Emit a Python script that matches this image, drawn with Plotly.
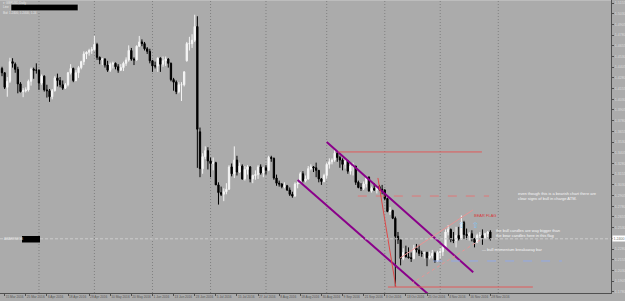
import plotly.graph_objects as go
import pandas as pd

# ---------------- data (GBPUSD daily) ----------------
first_day, last_day = "2016-03-14", "2016-11-28"
dates = pd.bdate_range(first_day, last_day)
calendar = pd.bdate_range(first_day, "2016-12-30")

opens = [
    1.4390, 1.4340, 1.4170, 1.4240, 1.4470,
    1.4440, 1.4380, 1.4210, 1.4120, 1.4130,
    1.4140, 1.4240, 1.4380, 1.4370, 1.4370,
    1.4220, 1.4300, 1.4140, 1.4130, 1.4060,
    1.4130, 1.4280, 1.4250, 1.4200, 1.4160,
    1.4200, 1.4340, 1.4390, 1.4250, 1.4340,
    1.4400, 1.4470, 1.4560, 1.4580, 1.4600,
    1.4610, 1.4670, 1.4520, 1.4490, 1.4500,
    1.4430, 1.4370, 1.4440, 1.4450, 1.4410,
    1.4370, 1.4400, 1.4450, 1.4490, 1.4600,
    1.4500, 1.4490, 1.4650, 1.4700, 1.4680,
    1.4620, 1.4590, 1.4480, 1.4420, 1.4420,
    1.4510, 1.4440, 1.4480, 1.4500, 1.4450,
    1.4260, 1.4230, 1.4120, 1.4200, 1.4200,
    1.4480, 1.4680, 1.4680, 1.4720, 1.4880,
    1.3650, 1.3220, 1.3360, 1.3430, 1.3310,
    1.3280, 1.3290, 1.3030, 1.2940, 1.2920,
    1.2950, 1.2980, 1.3240, 1.3160, 1.3320,
    1.3180, 1.3250, 1.3100, 1.3210, 1.3240,
    1.3100, 1.3140, 1.3150, 1.3240, 1.3170,
    1.3230, 1.3200, 1.3350, 1.3340, 1.3110,
    1.3050, 1.3040, 1.3010, 1.3020, 1.2970,
    1.2920, 1.2900, 1.3040, 1.3050, 1.3160,
    1.3080, 1.3100, 1.3220, 1.3240, 1.3230,
    1.3200, 1.3100, 1.3070, 1.3140, 1.3270,
    1.3300, 1.3320, 1.3400, 1.3350, 1.3320,
    1.3270, 1.3310, 1.3190, 1.3250, 1.3250,
    1.3060, 1.3000, 1.2990, 1.3040, 1.3120,
    1.2960, 1.2990, 1.2970, 1.3010, 1.2980,
    1.2970, 1.2870, 1.2720, 1.2730, 1.2640,
    1.2430, 1.2390, 1.2170, 1.2240, 1.2190,
    1.2180, 1.2170, 1.2290, 1.2270, 1.2230,
    1.2230, 1.2240, 1.2180, 1.2200, 1.2230,
    1.2140, 1.2240, 1.2250, 1.2300, 1.2480,
    1.2510, 1.2390, 1.2380, 1.2440, 1.2400,
    1.2590, 1.2450, 1.2440, 1.2460, 1.2400,
    1.2360, 1.2440, 1.2440, 1.2410, 1.2460,
    1.2480,
]
highs = [
    1.4410, 1.4345, 1.4290, 1.4515, 1.4510,
    1.4460, 1.4410, 1.4230, 1.4160, 1.4170,
    1.4260, 1.4400, 1.4400, 1.4450, 1.4380,
    1.4320, 1.4310, 1.4200, 1.4150, 1.4150,
    1.4300, 1.4330, 1.4290, 1.4250, 1.4220,
    1.4350, 1.4440, 1.4400, 1.4370, 1.4420,
    1.4480, 1.4590, 1.4590, 1.4620, 1.4640,
    1.4770, 1.4690, 1.4530, 1.4510, 1.4510,
    1.4480, 1.4460, 1.4470, 1.4460, 1.4440,
    1.4440, 1.4470, 1.4520, 1.4660, 1.4630,
    1.4520, 1.4660, 1.4770, 1.4730, 1.4700,
    1.4640, 1.4620, 1.4490, 1.4470, 1.4520,
    1.4520, 1.4530, 1.4530, 1.4510, 1.4460,
    1.4280, 1.4250, 1.4230, 1.4230, 1.4360,
    1.4700, 1.4760, 1.4790, 1.5018, 1.5000,
    1.3700, 1.3400, 1.3480, 1.3470, 1.3350,
    1.3350, 1.3300, 1.3060, 1.3010, 1.2990,
    1.3050, 1.3260, 1.3280, 1.3480, 1.3370,
    1.3290, 1.3270, 1.3250, 1.3260, 1.3250,
    1.3150, 1.3200, 1.3260, 1.3270, 1.3240,
    1.3260, 1.3370, 1.3370, 1.3350, 1.3150,
    1.3080, 1.3050, 1.3060, 1.3030, 1.3000,
    1.2950, 1.3060, 1.3070, 1.3180, 1.3190,
    1.3140, 1.3250, 1.3270, 1.3250, 1.3290,
    1.3200, 1.3110, 1.3160, 1.3290, 1.3340,
    1.3340, 1.3445, 1.3420, 1.3370, 1.3340,
    1.3330, 1.3320, 1.3270, 1.3290, 1.3250,
    1.3080, 1.3050, 1.3070, 1.3120, 1.3130,
    1.3010, 1.3050, 1.3020, 1.3030, 1.3030,
    1.2980, 1.2880, 1.2770, 1.2740, 1.2660,
    1.2480, 1.2400, 1.2290, 1.2320, 1.2300,
    1.2240, 1.2330, 1.2340, 1.2330, 1.2260,
    1.2250, 1.2250, 1.2250, 1.2270, 1.2250,
    1.2260, 1.2290, 1.2330, 1.2510, 1.2560,
    1.2520, 1.2480, 1.2540, 1.2540, 1.2674,
    1.2610, 1.2520, 1.2480, 1.2500, 1.2410,
    1.2460, 1.2480, 1.2510, 1.2470, 1.2490,
    1.2500,
]
lows = [
    1.4300, 1.4150, 1.4060, 1.4220, 1.4400,
    1.4340, 1.4100, 1.4110, 1.4055, 1.4110,
    1.4120, 1.4190, 1.4270, 1.4330, 1.4140,
    1.4200, 1.4120, 1.4050, 1.4000, 1.4030,
    1.4120, 1.4180, 1.4170, 1.4140, 1.4150,
    1.4180, 1.4320, 1.4230, 1.4240, 1.4280,
    1.4380, 1.4430, 1.4500, 1.4540, 1.4560,
    1.4600, 1.4490, 1.4440, 1.4430, 1.4400,
    1.4350, 1.4350, 1.4390, 1.4380, 1.4340,
    1.4360, 1.4360, 1.4420, 1.4470, 1.4480,
    1.4430, 1.4480, 1.4640, 1.4650, 1.4600,
    1.4560, 1.4450, 1.4350, 1.4390, 1.4350,
    1.4350, 1.4410, 1.4420, 1.4400, 1.4240,
    1.4130, 1.4090, 1.4100, 1.4010, 1.4180,
    1.4470, 1.4600, 1.4630, 1.4700, 1.3229,
    1.3120, 1.3160, 1.3330, 1.3210, 1.3120,
    1.3200, 1.3030, 1.2800, 1.2900, 1.2840,
    1.2920, 1.2970, 1.3130, 1.3110, 1.3140,
    1.3170, 1.3090, 1.3080, 1.3150, 1.3060,
    1.3050, 1.3090, 1.3100, 1.3150, 1.3120,
    1.3150, 1.3190, 1.3300, 1.3090, 1.3020,
    1.3010, 1.2990, 1.2990, 1.2960, 1.2900,
    1.2880, 1.2890, 1.2990, 1.3040, 1.3060,
    1.3060, 1.3090, 1.3200, 1.3180, 1.3120,
    1.3060, 1.3030, 1.3060, 1.3100, 1.3220,
    1.3270, 1.3300, 1.3300, 1.3230, 1.3200,
    1.3220, 1.3160, 1.3150, 1.3140, 1.3030,
    1.2990, 1.2960, 1.2970, 1.3000, 1.2950,
    1.2940, 1.2960, 1.2930, 1.2960, 1.2920,
    1.2850, 1.2710, 1.2680, 1.2630, 1.1841,
    1.2340, 1.2090, 1.2150, 1.2180, 1.2170,
    1.2130, 1.2160, 1.2240, 1.2200, 1.2190,
    1.2170, 1.2080, 1.2160, 1.2170, 1.2120,
    1.2130, 1.2170, 1.2200, 1.2290, 1.2440,
    1.2360, 1.2350, 1.2300, 1.2380, 1.2390,
    1.2400, 1.2390, 1.2380, 1.2370, 1.2300,
    1.2350, 1.2410, 1.2330, 1.2400, 1.2420,
    1.2380,
]
closes = [
    1.4340, 1.4170, 1.4240, 1.4470, 1.4450,
    1.4380, 1.4210, 1.4120, 1.4130, 1.4140,
    1.4240, 1.4380, 1.4370, 1.4370, 1.4220,
    1.4300, 1.4140, 1.4130, 1.4060, 1.4130,
    1.4280, 1.4250, 1.4200, 1.4160, 1.4200,
    1.4340, 1.4390, 1.4250, 1.4340, 1.4400,
    1.4470, 1.4560, 1.4580, 1.4600, 1.4610,
    1.4670, 1.4520, 1.4490, 1.4500, 1.4430,
    1.4370, 1.4440, 1.4450, 1.4410, 1.4370,
    1.4400, 1.4450, 1.4490, 1.4600, 1.4500,
    1.4490, 1.4650, 1.4700, 1.4680, 1.4620,
    1.4590, 1.4480, 1.4420, 1.4420, 1.4510,
    1.4440, 1.4480, 1.4500, 1.4450, 1.4260,
    1.4230, 1.4120, 1.4200, 1.4200, 1.4350,
    1.4680, 1.4680, 1.4720, 1.4880, 1.3680,
    1.3220, 1.3360, 1.3430, 1.3310, 1.3280,
    1.3290, 1.3030, 1.2940, 1.2920, 1.2950,
    1.2980, 1.3240, 1.3160, 1.3320, 1.3180,
    1.3250, 1.3100, 1.3210, 1.3240, 1.3100,
    1.3140, 1.3150, 1.3240, 1.3170, 1.3230,
    1.3200, 1.3350, 1.3340, 1.3110, 1.3050,
    1.3040, 1.3010, 1.3020, 1.2970, 1.2920,
    1.2900, 1.3040, 1.3050, 1.3160, 1.3080,
    1.3100, 1.3220, 1.3240, 1.3230, 1.3200,
    1.3100, 1.3070, 1.3140, 1.3270, 1.3300,
    1.3320, 1.3400, 1.3350, 1.3320, 1.3270,
    1.3310, 1.3190, 1.3250, 1.3250, 1.3060,
    1.3000, 1.2990, 1.3040, 1.3120, 1.2960,
    1.2990, 1.2970, 1.3010, 1.2980, 1.2970,
    1.2870, 1.2720, 1.2730, 1.2640, 1.2430,
    1.2390, 1.2170, 1.2240, 1.2190, 1.2180,
    1.2170, 1.2290, 1.2270, 1.2230, 1.2230,
    1.2240, 1.2180, 1.2200, 1.2230, 1.2140,
    1.2240, 1.2250, 1.2300, 1.2480, 1.2510,
    1.2390, 1.2380, 1.2440, 1.2400, 1.2590,
    1.2450, 1.2440, 1.2460, 1.2400, 1.2360,
    1.2440, 1.2440, 1.2410, 1.2460, 1.2480,
    1.2400,
]

price_ticks = [1.5155, 1.5030, 1.4905, 1.4780, 1.4655, 1.4530, 1.4405,
               1.4280, 1.4155, 1.4030, 1.3905, 1.3780, 1.3655, 1.3530,
               1.3405, 1.3280, 1.3155, 1.3030, 1.2905, 1.2780, 1.2655,
               1.2530, 1.2405, 1.2280, 1.2155, 1.2030, 1.1905, 1.1780]
date_tick_bars = [1, 9, 17, 25, 33, 41, 49, 57, 65, 73, 81, 89, 97, 105,
                  113, 121, 129, 137, 145, 153, 161, 169, 177, 185]

# drawn objects: (bar index, price) end points
channel_upper = ([123.0, 178.5], [1.3530, 1.2010])
channel_lower = ([112.0, 161.5], [1.3087, 1.1752])
red_top = ([127.3, 181.8], [1.3415, 1.3415])
red_dash = ([134.8, 184.5], [1.2900, 1.2900])
red_drop = ([142.4, 149.2], [1.3111, 1.1837])
red_bottom = ([146.2, 201.1], [1.1837, 1.1837])
flag_upper = ([150.8, 178.4], [1.2176, 1.2737])
flag_lower = ([155.2, 181.1], [1.1880, 1.2386])
blue_dash = ([163.3, 212.1], [1.2141, 1.2141])
arrow_bars = [174.2, 179.5]
arrow_price = 1.2560
bid_price = closes[-1]

# ---------------- figure ----------------
BG = "#ababab"
PW, PH = 611, 293  # plot area in pixels

def paper(px, py):
    return px / PW, 1 - py / PH

bars = list(range(len(dates)))
fig = go.Figure()
fig.add_trace(go.Candlestick(
    x=bars, open=opens, high=highs, low=lows, close=closes,
    increasing=dict(line=dict(color="#f4f4f4", width=1), fillcolor="#ffffff"),
    decreasing=dict(line=dict(color="#000000", width=1), fillcolor="#000000"),
    whiskerwidth=0, hoverinfo="skip", showlegend=False,
))

def seg(pts, color, width=1, dash="solid"):
    fig.add_trace(go.Scatter(x=pts[0], y=pts[1], mode="lines",
                             line=dict(color=color, width=width, dash=dash),
                             hoverinfo="skip", showlegend=False))

seg(channel_upper, "#8a008a", 2)
seg(channel_lower, "#8a008a", 2)
seg(red_top, "#e05a5a", 1)
seg(red_dash, "#e07878", 1, "dash")
seg(red_drop, "#e04848", 1)
seg(red_bottom, "#e05a5a", 1)
seg(flag_upper, "#e89494", 1)
seg(flag_lower, "#e89494", 1, "dot")
seg(blue_dash, "#93a9e6", 1, "dash")

shapes = []
# monthly vertical grid lines (first trading day of each month)
month_starts = [i for i in range(1, len(calendar))
                if calendar[i].month != calendar[i - 1].month]
for i in month_starts:
    shapes.append(dict(type="line", xref="x", yref="paper", x0=i, x1=i, y0=0, y1=1,
                       line=dict(color="#808080", width=1, dash="1px,2px"), layer="below"))
# bid line
shapes.append(dict(type="line", xref="paper", yref="y", x0=0, x1=1, y0=bid_price, y1=bid_price,
                   line=dict(color="#cdcdcd", width=1, dash="3px,2px")))
# top frame
shapes.append(dict(type="line", xref="paper", yref="paper", x0=0, x1=1, y0=1, y1=1,
                   line=dict(color="#cfcfcf", width=1)))
# redacted boxes
bx0, by0 = paper(11, 4.3)
bx1, by1 = paper(78, 10.7)
shapes.append(dict(type="rect", xref="paper", yref="paper", x0=bx0, x1=bx1, y0=by1, y1=by0,
                   fillcolor="#000000", line=dict(color="#d0d0d0", width=0.5)))
bx0, by0 = paper(22, 236)
bx1, by1 = paper(40, 242.5)
shapes.append(dict(type="rect", xref="paper", yref="paper", x0=bx0, x1=bx1, y0=by1, y1=by0,
                   fillcolor="#000000", line=dict(width=0)))

annotations = []
FONT = "Liberation Sans"

def note_px(px, py, text, size, color, xanchor="left"):
    x, y = paper(px, py)
    annotations.append(dict(xref="paper", yref="paper", x=x, y=y, text=text, showarrow=False,
                            xanchor=xanchor, yanchor="middle",
                            font=dict(family=FONT, size=size, color=color)))

note_px(1, 2.6, "▾ GBPUSD,Daily", 3, "#e6e6e6")
note_px(1, 7.4, "Line", 3, "#e6e6e6")
note_px(1, 13.2, "Bid: 1.2400, 1.2400, 1.24", 3, "#e6e6e6")
note_px(2, 239.3, "AWARENESS", 3, "#e6e6e6")

def note(x, y, text, size, color, family=FONT):
    annotations.append(dict(xref="x", yref="y", x=x, y=y, text=text, showarrow=False,
                            xanchor="left", yanchor="middle", align="left",
                            font=dict(family=family, size=size, color=color)))

note(178.0, 1.2667, "BEAR FLAG", 4, "#d83a3a")
note(194.7, 1.2906, "even though this is a bearish chart there are<br>clear signs of bull in charge ATM.",
     4, "#f6f6f6")
note(186.4, 1.2468, "the bull candles are way bigger than<br>the bear candles here in this flag",
     4, "#f6f6f6")
note(181.0, 1.2270, "— bull momentum breakaway bar", 4, "#f6f6f6")
for b in arrow_bars:
    annotations.append(dict(xref="x", yref="y", x=b, y=arrow_price, text="⇧", showarrow=False,
                            xanchor="center", yanchor="middle",
                            font=dict(family="DejaVu Sans", size=8, color="#7ec4f4")))
# bid price label on the price axis
annotations.append(dict(xref="paper", yref="y", x=1.0, y=bid_price, text=f"{bid_price:.4f}",
                        showarrow=False, xanchor="left", yanchor="middle", xshift=1,
                        bgcolor="#ffffff", borderpad=0.5,
                        font=dict(family=FONT, size=3.6, color="#707070")))

fig.update_layout(
    width=625, height=301, autosize=False,
    margin=dict(l=0, r=625 - PW, t=0, b=301 - PH, pad=0),
    paper_bgcolor=BG, plot_bgcolor=BG,
    showlegend=False, hovermode=False,
    shapes=shapes, annotations=annotations,
    xaxis=dict(type="linear", range=[-0.76, 230.7], showgrid=False, zeroline=False,
               showline=True, linecolor="#505050", linewidth=1,
               ticks="outside", ticklen=2, tickcolor="#505050",
               tickvals=date_tick_bars,
               ticktext=[dates[i].strftime("%-d %b %Y") for i in date_tick_bars],
               ticklabelposition="outside right", tickangle=0,
               tickfont=dict(family=FONT, size=3.2, color="#555555"),
               rangeslider=dict(visible=False), fixedrange=True),
    yaxis=dict(side="right", range=[1.1767, 1.5190], showgrid=False, zeroline=False,
               showline=True, linecolor="#505050", linewidth=1,
               ticks="outside", ticklen=2, tickcolor="#505050",
               tickvals=price_ticks, ticktext=[f"{v:.4f}" for v in price_ticks],
               tickfont=dict(family=FONT, size=3.6, color="#dcdcdc"), fixedrange=True),
)

fig.write_html("out.html")
